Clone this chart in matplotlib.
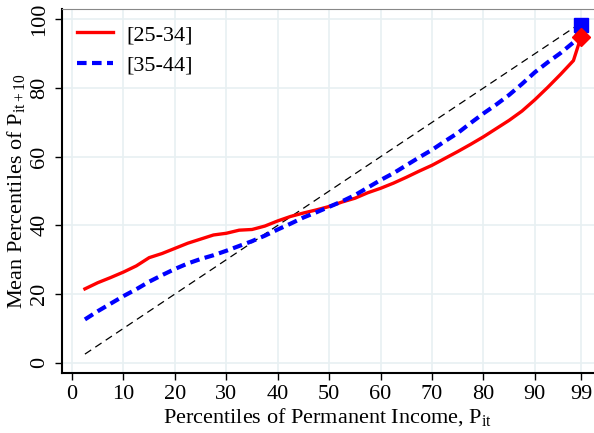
import matplotlib
matplotlib.use("Agg")
import matplotlib.pyplot as plt

plt.rcParams['font.family'] = ['Liberation Serif', 'DejaVu Serif']
plt.rcParams['mathtext.fontset'] = 'custom'
plt.rcParams['mathtext.rm'] = 'Liberation Serif'
plt.rcParams['mathtext.it'] = 'Liberation Serif'

x = [2.5, 5, 7.5, 10, 12.5, 15, 17.5, 20, 22.5, 25, 27.5, 30, 32.5, 35, 37.5, 40,
     42.5, 45, 47.5, 50, 52.5, 55, 57.5, 60, 62.5, 65, 67.5, 70, 72.5, 75, 77.5, 80,
     82.5, 85, 87.5, 90, 92.5, 95, 97.5, 99]
red_25_34 = [21.5, 23.3, 24.8, 26.4, 28.2, 30.6, 31.8, 33.3, 34.8, 36.0, 37.2, 37.7, 38.6, 38.8,
             39.8, 41.3, 42.6, 43.6, 44.5, 45.5, 46.8, 47.9, 49.5, 50.8, 52.3, 54.0, 55.8,
             57.5, 59.5, 61.5, 63.6, 65.8, 68.2, 70.6, 73.3, 76.6, 80.2, 84.0, 88.0, 95.0]
blue_35_44 = [12.6, 15.0, 17.2, 19.4, 21.4, 23.6, 25.5, 27.3, 28.9, 30.2, 31.3, 32.6, 34.0, 35.4,
              37.0, 38.8, 40.5, 42.3, 43.8, 45.4, 47.0, 48.8, 51.0, 53.2, 55.2, 57.5, 59.8,
              62.0, 64.5, 66.9, 69.8, 72.6, 75.2, 78.0, 81.2, 84.6, 87.5, 90.2, 93.3, 98.3]
diag = [2.5, 99]
xticks = [0, 10, 20, 30, 40, 50, 60, 70, 80, 90, 99]
yticks = [0, 20, 40, 60, 80, 100]

fig = plt.figure(figsize=(5.94, 4.33), dpi=100)
ax = fig.add_axes([0.104, 0.1386, 0.896, 0.8404])

ax.plot(diag, diag, color='black', lw=0.9, ls=(0, (6, 4)), zorder=2)
ax.plot(x, red_25_34, color='#ff0000', lw=2.4, label='[25-34]', zorder=3)
ax.plot(x, blue_35_44, color='#0000ff', lw=3.0, ls=(0, (2.3, 1.3)), label='[35-44]', zorder=3)
ax.plot([x[-1]], [blue_35_44[-1]], marker='s', color='#0000ff', ms=10, ls='none', zorder=4)
ax.plot([x[-1]], [red_25_34[-1]], marker='D', color='#ff0000', ms=9, ls='none', zorder=4)

ax.set_xlim(-2, 101.5)
ax.set_ylim(-3, 103)
ax.set_xticks(xticks)
ax.set_yticks(yticks)
ax.set_yticklabels([str(v) for v in yticks], rotation=90, va='center')
ax.tick_params(axis='both', labelsize=16, direction='out', length=5, width=1, colors='black')
ax.tick_params(axis='x', pad=4)
ax.tick_params(axis='y', pad=4)
ax.grid(True, color='#e8f0f2', lw=1.2, zorder=0)
ax.set_axisbelow(True)

ax.spines['right'].set_visible(False)
ax.spines['top'].set_color('#888888')
ax.spines['top'].set_linewidth(0.8)
ax.spines['left'].set_linewidth(1.5)
ax.spines['bottom'].set_linewidth(1.5)

ax.set_xlabel(r'Percentiles of Permanent Income, P$_{\mathrm{it}}$', fontsize=16, labelpad=1)
ax.set_ylabel(r'Mean Percentiles of P$_{\mathrm{it+10}}$', fontsize=16, labelpad=2)

leg = ax.legend(loc='upper left', frameon=False, fontsize=16, handlelength=1.6,
                borderaxespad=0.3, labelspacing=0.45, handletextpad=0.6)

fig.savefig('out.png', dpi=100)
